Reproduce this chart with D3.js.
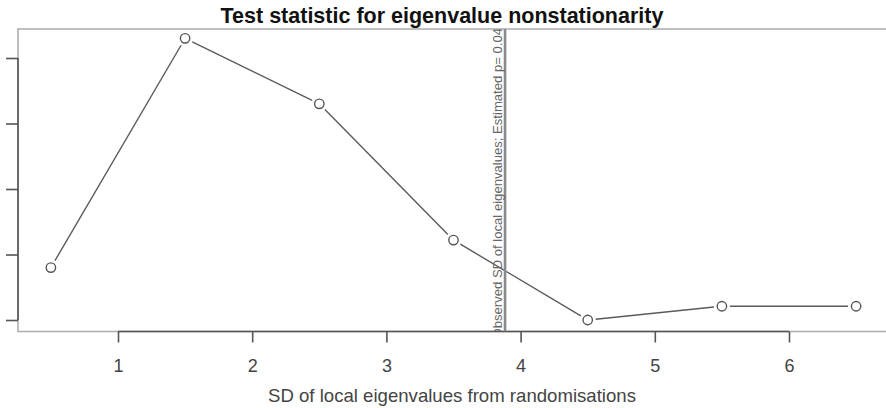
<!DOCTYPE html>
<html><head><meta charset="utf-8">
<script src="https://cdn.jsdelivr.net/npm/d3@7"></script>
<style>
body{margin:0;background:#fff;}
svg{display:block;}
text{font-family:"Liberation Sans",Arial,sans-serif;}
</style></head>
<body><svg id="c" width="886" height="408"></svg>
<script>
const bins = [0.5, 1.5, 2.5, 3.5, 4.5, 5.5, 6.5];
const density = [0.08, 0.43, 0.33, 0.122, 0, 0.021, 0.021];
const xTicks = [1, 2, 3, 4, 5, 6];
const yTicks = [0, 0.1, 0.2, 0.3, 0.4];
const observed = 3.884;
const pValue = "0.04";
const title = "Test statistic for eigenvalue nonstationarity";
const xLabel = "SD of local eigenvalues from randomisations";

const svg = d3.select("#c");
const box = {left: 18, top: 29, right: 905, bottom: 331.5};

const x = d3.scaleLinear().domain([1, 6]).range([118, 789]);
const y = d3.scaleLinear().domain([0, 0.4]).range([320, 58]);

svg.append("defs").append("clipPath").attr("id","clip")
  .append("rect").attr("x",box.left).attr("y",box.top)
  .attr("width",box.right-box.left).attr("height",box.bottom-box.top);

// plot box
svg.append("rect").attr("x",box.left).attr("y",box.top)
  .attr("width",box.right-box.left).attr("height",box.bottom-box.top)
  .attr("fill","none").attr("stroke","#b0b0b0").attr("stroke-width",1.6);

// x axis
const xAxis = svg.append("g").attr("transform",`translate(0,${box.bottom})`)
  .call(d3.axisBottom(x).tickValues(xTicks).tickSize(11).tickPadding(17).tickFormat(d3.format("d")));
xAxis.select(".domain").attr("d",`M${x(1)},0H${x(6)}`).attr("stroke","#555").attr("stroke-width",1.6);
xAxis.selectAll(".tick line").attr("stroke","#555").attr("stroke-width",1.6);
xAxis.selectAll(".tick text").attr("fill","#444").attr("font-size",18).attr("font-family","Liberation Sans, Arial, sans-serif");

// y axis (tick labels lie outside the cropped picture, so none are drawn)
const yAxis = svg.append("g").attr("transform",`translate(${box.left},0)`)
  .call(d3.axisLeft(y).tickValues(yTicks).tickSize(12).tickFormat(() => ""));
yAxis.select(".domain").attr("d",`M0,${y(0)}V${y(0.4)}`).attr("stroke","#555").attr("stroke-width",1.6);
yAxis.selectAll(".tick line").attr("stroke","#555").attr("stroke-width",1.6);
yAxis.selectAll(".tick text").remove();

// title
svg.append("text").attr("x",442).attr("y",23).attr("text-anchor","middle")
  .attr("font-size",21.5).attr("font-weight","bold").attr("fill","#111").text(title);
// x label
svg.append("text").attr("x",452).attr("y",402).attr("text-anchor","middle")
  .attr("font-size",18.6).attr("fill","#444").text(xLabel);

// line with gaps (type "b")
const pts = bins.map((b,i)=>[x(b), y(density[i])]);
const gap = 8;
const g = svg.append("g");
for (let i=0;i<pts.length-1;i++){
  const [x0,y0]=pts[i],[x1,y1]=pts[i+1];
  const dx=x1-x0, dy=y1-y0, L=Math.hypot(dx,dy);
  if (L<=2*gap) continue;
  const ux=dx/L, uy=dy/L;
  g.append("line").attr("x1",x0+ux*gap).attr("y1",y0+uy*gap)
    .attr("x2",x1-ux*gap).attr("y2",y1-uy*gap)
    .attr("stroke","#5a5a5a").attr("stroke-width",1.4);
}
g.selectAll("circle").data(bins).join("circle")
  .attr("cx",(d)=>x(d)).attr("cy",(d,i)=>y(density[i])).attr("r",4.7)
  .attr("fill","#fff").attr("stroke","#555").attr("stroke-width",1.4);

// observed line + text
const obs = svg.append("g").attr("clip-path","url(#clip)");
obs.append("line").attr("x1",x(observed)).attr("x2",x(observed))
  .attr("y1",box.top).attr("y2",box.bottom).attr("stroke","#8a8a8a").attr("stroke-width",2.6);
obs.append("text").attr("transform",`translate(${x(observed)-3.5},${box.top-1}) rotate(-90)`)
  .attr("text-anchor","end").attr("font-size",13.1).attr("fill","#666")
  .text(`Observed SD of local eigenvalues; Estimated p= ${pValue}`);
</script></body></html>
